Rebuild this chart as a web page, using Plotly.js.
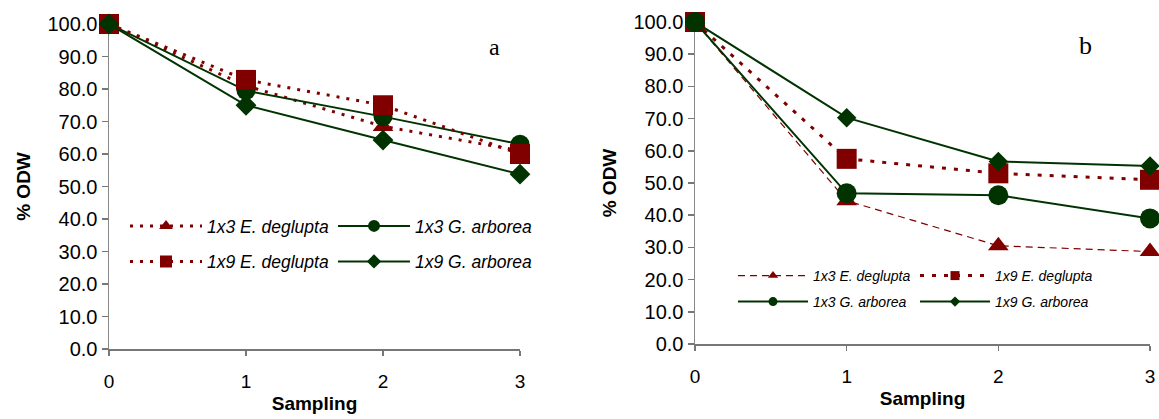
<!DOCTYPE html>
<html><head><meta charset="utf-8">
<script src="https://cdn.plot.ly/plotly-3.0.1.min.js"></script>
<style>html,body{margin:0;padding:0;background:#fff}#chart{width:1159px;height:419px}</style>
</head><body><div id="chart"></div>
<script>
// ---- data ----
const sampling = [0, 1, 2, 3];
const yTicks = [0, 10, 20, 30, 40, 50, 60, 70, 80, 90, 100];
const yTickLabels = ['0.0','10.0','20.0','30.0','40.0','50.0','60.0','70.0','80.0','90.0','100.0'];
const names = ['1x3 E. deglupta', '1x9 E. deglupta', '1x3 G. arborea', '1x9 G. arborea'];
// panel a
const a_1x3_Edeg = [100, 81, 68.5, 61];
const a_1x9_Edeg = [100, 82.8, 75, 60];
const a_1x3_Garb = [100, 79.5, 71.5, 63];
const a_1x9_Garb = [100, 75, 64.3, 53.8];
// panel b
const b_1x3_Edeg = [100, 44.5, 30.5, 28.7];
const b_1x9_Edeg = [100, 57.5, 53, 51];
const b_1x3_Garb = [100, 46.8, 46.2, 39];
const b_1x9_Garb = [100, 70.3, 56.7, 55.3];
const panelLabels = ['a', 'b'];

const RED = '#800000', GREEN = '#003300';
const FONT = 'Liberation Sans, Arial, sans-serif';

// styles per panel/series
const styleA = {
  tri: {line: {color: RED, width: 3, dash: '3px,7px'}, sym: 'triangle-up', size: 18, lsize: 12},
  sq:  {line: {color: RED, width: 3, dash: '3px,7px'}, sym: 'square', size: 20, lsize: 12},
  cir: {line: {color: GREEN, width: 2}, sym: 'circle', size: 19, lsize: 12},
  dia: {line: {color: GREEN, width: 2}, sym: 'diamond', size: 16, lsize: 11}
};
const styleB = {
  tri: {line: {color: RED, width: 1.2, dash: '7px,5px'}, sym: 'triangle-up', size: 18, lsize: 9},
  sq:  {line: {color: RED, width: 3, dash: '4px,8px'}, sym: 'square', size: 20, lsize: 9},
  cir: {line: {color: GREEN, width: 2}, sym: 'circle', size: 20, lsize: 9},
  dia: {line: {color: GREEN, width: 2}, sym: 'diamond', size: 15, lsize: 8}
};
const colorOf = s => s.line.color;
const NOPOINT = [null];

function dataTrace(y, st, ax) {
  return {type: 'scatter', mode: 'lines+markers', x: sampling, y: y, showlegend: false,
    xaxis: ax[0], yaxis: ax[1], cliponaxis: false, hoverinfo: 'skip',
    line: st.line, marker: {symbol: st.sym, size: st.size, color: colorOf(st)}};
}
// legend keys (a single missing value: nothing is drawn on the plot)
function keyTrace(name, st, ax, legend, rank) {
  return {type: 'scatter', mode: 'lines+markers', x: NOPOINT, y: NOPOINT, name: name, showlegend: true,
    legend: legend, legendrank: rank, xaxis: ax[0], yaxis: ax[1], hoverinfo: 'skip',
    line: st.line, marker: {symbol: st.sym, size: st.lsize, color: colorOf(st)}};
}

const A = ['x', 'y'], Bx = ['x2', 'y2'];
const traces = [
  // panel a (draw order: triangle, circle, square, diamond)
  dataTrace(a_1x3_Edeg, styleA.tri, A),
  dataTrace(a_1x3_Garb, styleA.cir, A),
  dataTrace(a_1x9_Edeg, styleA.sq, A),
  dataTrace(a_1x9_Garb, styleA.dia, A),
  // panel b (draw order: triangle, square, diamond, circle)
  dataTrace(b_1x3_Edeg, styleB.tri, Bx),
  dataTrace(b_1x9_Edeg, styleB.sq, Bx),
  dataTrace(b_1x9_Garb, styleB.dia, Bx),
  dataTrace(b_1x3_Garb, styleB.cir, Bx),
  // legend keys
  keyTrace(names[0], styleA.tri, A, 'legend', 1),
  keyTrace(names[2], styleA.cir, A, 'legend', 2),
  keyTrace(names[1], styleA.sq, A, 'legend2', 1),
  keyTrace(names[3], styleA.dia, A, 'legend2', 2),
  keyTrace(names[0], styleB.tri, Bx, 'legend3', 1),
  keyTrace(names[1], styleB.sq, Bx, 'legend3', 2),
  keyTrace(names[2], styleB.cir, Bx, 'legend4', 1),
  keyTrace(names[3], styleB.dia, Bx, 'legend4', 2)
];

function xax(domain, anchor) {
  return {domain: domain, anchor: anchor, range: [0, 3], tickmode: 'array', tickvals: sampling,
    ticktext: sampling.map(String), showgrid: false, zeroline: false, showline: true,
    linecolor: '#777', linewidth: 1.5, ticks: 'outside', ticklen: 5, tickcolor: '#777', tickwidth: 1.5,
    ticklabelstandoff: 10, tickfont: {family: FONT, size: 19, color: '#000'},
    layer: 'below traces', fixedrange: true, automargin: false,
    title: {text: '<b>Sampling</b>', font: {family: FONT, size: 19, color: '#000'}, standoff: 5}};
}
function yax(domain, anchor) {
  return {domain: domain, anchor: anchor, range: [0, 100], tickmode: 'array', tickvals: yTicks,
    ticktext: yTickLabels, showgrid: false, zeroline: false, showline: true,
    linecolor: '#888', linewidth: 1.5, ticks: 'outside', ticklen: 6, tickcolor: '#777', tickwidth: 1.5,
    ticklabelstandoff: 0, tickfont: {family: FONT, size: 20, color: '#000'},
    layer: 'below traces', fixedrange: true, automargin: false,
    title: {text: '<b>% ODW</b>', font: {family: FONT, size: 19, color: '#000'}, standoff: 12}};
}
function leg(x, y, size, iw, ew) {
  return {orientation: 'h', x: x, y: y, xanchor: 'left', yanchor: 'middle', xref: 'paper', yref: 'paper',
    bgcolor: 'rgba(0,0,0,0)', borderwidth: 0, itemsizing: 'trace', itemwidth: iw,
    entrywidth: ew, entrywidthmode: 'pixels', traceorder: 'normal',
    font: {family: FONT, size: size, color: '#000', style: 'italic'}};
}

// margins: plot area x 109..1150, y 22..349
const W = 1159, H = 419, L = 109, R = 9, T = 22, B = 70;
const PW = W - L - R, PH = H - T - B;
const fx = px => (px - L) / PW;
const fy = py => (H - B - py) / PH;

const layout = {
  width: W, height: H, margin: {l: L, r: R, t: T, b: B},
  paper_bgcolor: '#fff', plot_bgcolor: '#fff', showlegend: true,
  font: {family: FONT, color: '#000'},
  xaxis: xax([fx(109), fx(520)], 'y'),
  yaxis: yax([fy(349), fy(24)], 'x'),
  xaxis2: xax([fx(695), fx(1150)], 'y2'),
  yaxis2: yax([fy(344), fy(22)], 'x2'),
  legend: leg(fx(125), fy(226), 17.5, 72, 121),
  legend2: leg(fx(125), fy(261.5), 17.5, 72, 121),
  legend3: leg(fx(733), fy(276), 14, 70, 97),
  legend4: leg(fx(733), fy(302), 14, 70, 97),
  annotations: [
    {text: panelLabels[0], xref: 'paper', yref: 'paper', x: fx(494), y: fy(47), showarrow: false,
     xanchor: 'center', yanchor: 'middle', font: {family: 'Liberation Serif, Times New Roman, serif', size: 24, color: '#000'}},
    {text: panelLabels[1], xref: 'paper', yref: 'paper', x: fx(1085), y: fy(45), showarrow: false,
     xanchor: 'center', yanchor: 'middle', font: {family: 'Liberation Serif, Times New Roman, serif', size: 26, color: '#000'}}
  ]
};

Plotly.newPlot('chart', traces, layout, {displayModeBar: false, staticPlot: true});
</script></body></html>
